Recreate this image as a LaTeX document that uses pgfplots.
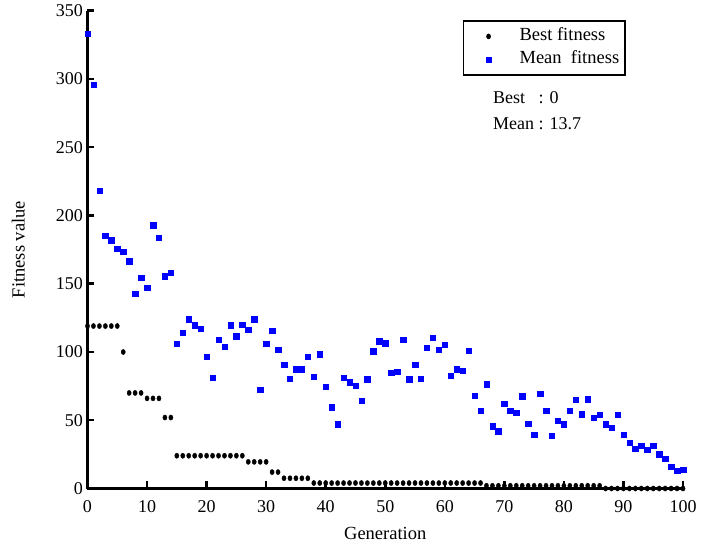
\documentclass[border=0pt]{standalone}
\usepackage{fontspec}
\setmainfont{Liberation Serif}
\usepackage{pgfplots}
\pgfplotsset{compat=1.18}
\definecolor{meanBlue}{RGB}{0,0,255}

\begin{document}
\begin{tikzpicture}
\begin{axis}[
  scale only axis,
  width=595.5pt, height=477.8pt,
  xmin=0, xmax=100, ymin=0, ymax=350,
  axis lines=left,
  axis line style={line width=3.4pt, -},
  xtick={0,10,...,100}, ytick={0,50,...,350},
  tick align=inside,
  major tick length=7pt,
  every tick/.style={line width=2.5pt, black},
  tick label style={font=\fontsize{18}{20}\selectfont},
  /pgf/number format/assume math mode=true,
  xticklabel style={yshift=-8pt},
  yticklabel style={xshift=-1pt},
  xlabel={Generation}, ylabel={Fitness value},
  label style={font=\fontsize{18.5}{22}\selectfont},
  xlabel style={at={(axis description cs:0.5,-0.095)}, anchor=center},
  ylabel style={at={(axis description cs:-0.116,0.5)}, anchor=center},
  clip=false,
  legend cell align=left,
  legend image code/.code={\path[draw=none,fill=none] (0pt,0pt) -- (50pt,0pt); \draw[#1] plot coordinates {(22pt,0pt)};},
  legend style={at={(axis description cs:0.630,0.9805)}, anchor=north west,
    draw=black, line width=1.8pt, inner xsep=3pt, inner ysep=4pt,
    font=\fontsize{18.5}{22}\selectfont,
    nodes={inner xsep=3pt, inner ysep=3pt, text height=12.5pt, text depth=4.5pt, line width=0.4pt}},
]
% best fitness per generation
\addplot[only marks, mark=*, mark size=2.6pt, black, mark options={xscale=0.8, line width=0.4pt}] table {
x y
0 119
1 119
2 119
3 119
4 119
5 119
6 100
7 70
8 70
9 70
10 66
11 66
12 66
13 52
14 52
15 24
16 24
17 24
18 24
19 24
20 24
21 24
22 24
23 24
24 24
25 24
26 24
27 19.5
28 19.5
29 19.5
30 19.5
31 12
32 12
33 7.5
34 7.5
35 7.5
36 7.5
37 7.5
38 4
39 4
40 4
41 4
42 4
43 4
44 4
45 4
46 4
47 4
48 4
49 4
50 4
51 4
52 4
53 4
54 4
55 4
56 4
57 4
58 4
59 4
60 4
61 4
62 4
63 4
64 4
65 4
66 4
67 2
68 2
69 2
70 2
71 2
72 2
73 2
74 2
75 2
76 2
77 2
78 2
79 2
80 2
81 2
82 2
83 2
84 2
85 2
86 2
87 0
88 0
89 0
90 0
91 0
92 0
93 0
94 0
95 0
96 0
97 0
98 0
99 0
100 0
};
\addlegendentry{Best fitness}
% mean fitness per generation
\addplot[only marks, mark=square*, mark size=2.7pt, meanBlue, mark options={line width=0.4pt}] table {
x y
0 333
1 296
2 218
3 185
4 182
5 175.5
6 173.5
7 166.5
8 142.5
9 154.5
10 147
11 193
12 183.5
13 155.5
14 158
15 106
16 114
17 124
18 119.5
19 117
20 96.5
21 81
22 109
23 104
24 119.5
25 111.5
26 120
27 116.5
28 124
29 72.5
30 106
31 115.5
32 101.5
33 90.5
34 80.5
35 87.5
36 87.5
37 96.5
38 82
39 98.5
40 74.5
41 59.5
42 47
43 81
44 78
45 75.5
46 64.5
47 80
48 100.5
49 108
50 106.5
51 85
52 85.5
53 109
54 80
55 90.5
56 80.5
57 103
58 110.5
59 101.5
60 105.5
61 82.5
62 87.5
63 86.5
64 101
65 68
66 57
67 76.5
68 45.5
69 42
70 62
71 57
72 55.5
73 67.5
74 47.5
75 39.5
76 69.5
77 57
78 38.5
79 49.5
80 47
81 57
82 65
83 54.5
84 65.5
85 52
86 54
87 47
88 44.5
89 54
90 39.5
91 33.5
92 29
93 31.5
94 28.5
95 31.5
96 25
97 22
98 16
99 13
100 13.7
};
\addlegendentry{Mean\ \ fitness}
\node[anchor=north west, inner sep=0pt, font=\fontsize{18}{26}\selectfont]
  at (axis description cs:0.681,0.845) {%
  \begin{tabular}{@{}l@{\ }l@{}}Best & : 0\\ Mean & : 13.7\end{tabular}};
\end{axis}
\pgfresetboundingbox
\path (-87.5pt,-54.5pt) rectangle (613.5pt,488.5pt);
\end{tikzpicture}
\end{document}
